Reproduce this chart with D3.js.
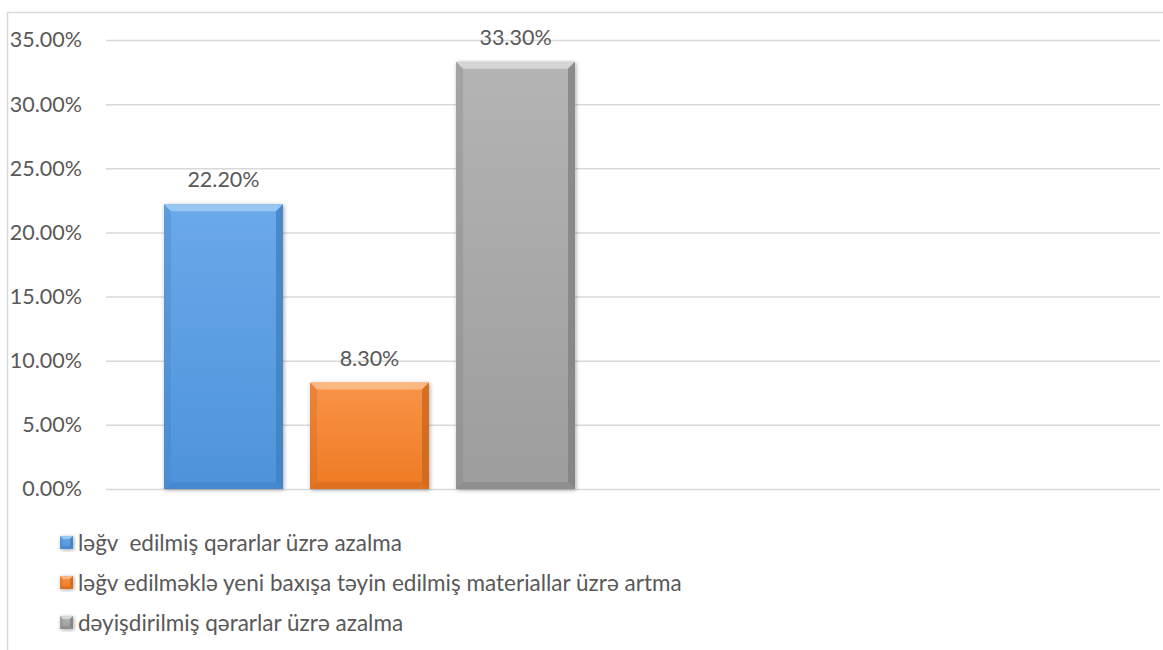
<!DOCTYPE html>
<html><head><meta charset="utf-8">
<script src="https://cdn.jsdelivr.net/npm/d3@7/dist/d3.min.js"></script>
<style>
html,body{margin:0;padding:0;background:#fff;}
text{font-family:Lato,"Open Sans",sans-serif;fill:#595959;}
</style></head>
<body>
<svg id="chart" width="1163" height="650"></svg>
<script>
const categories = ["1", "2"];
const seriesNames = [
  "ləğv  edilmiş qərarlar üzrə azalma",
  "ləğv edilməklə yeni baxışa təyin edilmiş materiallar üzrə artma",
  "dəyişdirilmiş qərarlar üzrə azalma"
];
const seriesValues = [
  [0.222, null],
  [0.083, null],
  [0.333, null]
];
const yTicks = [0, 0.05, 0.10, 0.15, 0.20, 0.25, 0.30, 0.35];
const seriesColors = [
  {base:"#5b9fe3", light:"#9ccaf4", dark:"#3f7fc0", top:"#6aa9ea", bot:"#4e93da"},
  {base:"#f5842f", light:"#fbbb88", dark:"#c9641a", top:"#f89448", bot:"#ef7a22"},
  {base:"#a8a8a8", light:"#d8d8d8", dark:"#7e7e7e", top:"#b4b4b4", bot:"#9d9d9d"}
];

const svg = d3.select("#chart");
const defs = svg.append("defs");
const fmt = d3.format(".2%");

// chart border
svg.append("path").attr("d","M7.5,650 V12.5 H1163").attr("fill","none").attr("stroke","#d9d9d9").attr("stroke-width",1.5);

const plot = {left:106, right:1160, top:40, bottom:489};
const x0 = d3.scaleBand().domain(categories).range([plot.left, plot.right]).paddingInner(0).paddingOuter(0);
const x1 = d3.scaleBand().domain(d3.range(seriesNames.length)).range([0, x0.bandwidth()]).paddingInner(0.185).paddingOuter(0.397);
const y = d3.scaleLinear().domain([0, 0.35]).range([plot.bottom, plot.top]);

// gradients
seriesColors.forEach((c,i)=>{
  const g = defs.append("linearGradient").attr("id","g"+i).attr("x1",0).attr("x2",0).attr("y1",0).attr("y2",1);
  g.append("stop").attr("offset","0%").attr("stop-color",c.top);
  g.append("stop").attr("offset","100%").attr("stop-color",c.bot);
});
const shadow = defs.append("filter").attr("id","sh").attr("x","-20%").attr("y","-20%").attr("width","140%").attr("height","140%");
shadow.append("feGaussianBlur").attr("in","SourceAlpha").attr("stdDeviation",2);
shadow.append("feOffset").attr("dx",1).attr("dy",1).attr("result","ob");
shadow.append("feComponentTransfer").append("feFuncA").attr("type","linear").attr("slope",0.35);
const m = shadow.append("feMerge"); m.append("feMergeNode"); m.append("feMergeNode").attr("in","SourceGraphic");

// gridlines
svg.append("g").attr("class","grid")
  .attr("transform",`translate(${plot.left},0)`)
  .call(d3.axisLeft(y).tickValues(yTicks).tickSize(-(plot.right-plot.left)).tickFormat(""))
  .call(g=>g.select(".domain").remove())
  .call(g=>g.selectAll("line").attr("stroke","#d9d9d9").attr("stroke-width",1.5));

// y labels
svg.append("g").attr("transform",`translate(82,0)`)
  .call(d3.axisLeft(y).tickValues(yTicks).tickSize(0).tickPadding(0).tickFormat(fmt))
  .call(g=>g.select(".domain").remove())
  .call(g=>g.selectAll("text").attr("font-size",21.5).attr("fill","#595959").attr("font-family","Lato,'Open Sans',sans-serif"));

function bevelBar(g, x, yTop, w, h, c, i, b){
  g.append("rect").attr("x",x).attr("y",yTop).attr("width",w).attr("height",h).attr("fill",`url(#g${i})`).attr("filter","url(#sh)");
  b = Math.min(b, h/2, w/2);
  g.append("path").attr("d",`M${x},${yTop} H${x+w} L${x+w-b},${yTop+b} H${x+b} Z`).attr("fill",c.light).attr("opacity",0.9);
  g.append("path").attr("d",`M${x},${yTop} L${x+b},${yTop+b} V${yTop+h-b} L${x},${yTop+h} Z`).attr("fill",c.dark).attr("opacity",0.3);
  g.append("path").attr("d",`M${x+w},${yTop} L${x+w-b},${yTop+b} V${yTop+h-b} L${x+w},${yTop+h} Z`).attr("fill",c.dark).attr("opacity",0.75);
  g.append("path").attr("d",`M${x},${yTop+h} H${x+w} L${x+w-b},${yTop+h-b} H${x+b} Z`).attr("fill",c.dark).attr("opacity",0.45);
}

const barsG = svg.append("g");
categories.forEach((cat,ci)=>{
  seriesNames.forEach((s,si)=>{
    const v = seriesValues[si][ci];
    if(v==null) return;
    const bx = x0(cat)+x1(si), bw = x1.bandwidth();
    const yt = y(v), h = y(0)-y(v);
    bevelBar(barsG, bx, yt, bw, h, seriesColors[si], si, 7);
    barsG.append("text").attr("x",bx+bw/2).attr("y",yt-17).attr("text-anchor","middle")
      .attr("font-size",21.5).text(fmt(v));
  });
});

// legend
const leg = svg.append("g");
const legY = [543, 583, 623];
seriesNames.forEach((s,i)=>{
  bevelBar(leg, 60, legY[i]-7, 13, 13, seriesColors[i], i, 3);
  leg.append("text").attr("x",78).attr("y",legY[i]+8).attr("font-size",22.5)
    .style("white-space","pre").text(s);
});
</script>
</body></html>
